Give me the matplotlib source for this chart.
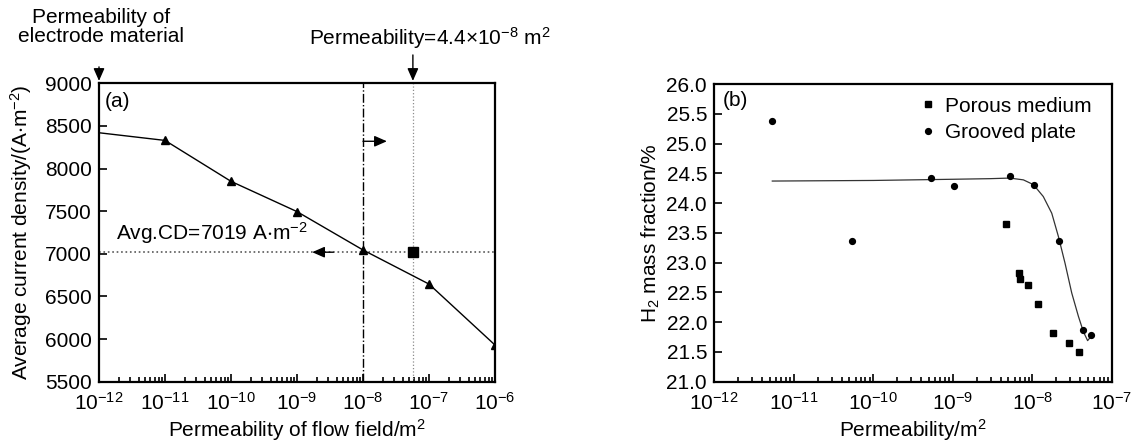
import matplotlib
matplotlib.use('Agg')
import matplotlib.pyplot as plt
import numpy as np

# (a) current density vs flow field permeability
perm_a = [1e-12, 1e-11, 1e-10, 1e-9, 1e-8, 1e-7, 1e-6]
cd_a = [8420, 8330, 7850, 7495, 7045, 6645, 5930]
perm_mark = 5.7e-8      # dotted line / square marker
avg_cd = 7019

# (b) H2 mass fraction
porous_x = [4.66e-9, 6.8e-9, 6.9e-9, 8.7e-9, 1.16e-8, 1.8e-8, 2.9e-8, 3.9e-8]
porous_y = [23.65, 22.82, 22.72, 22.62, 22.31, 21.81, 21.65, 21.50]
groove_x = [5.4e-12, 5.4e-11, 5.3e-10, 1.05e-9, 5.2e-9, 1.06e-8, 2.14e-8, 4.37e-8, 5.45e-8]
groove_y = [25.38, 23.37, 24.42, 24.28, 24.45, 24.31, 23.37, 21.87, 21.78]
fit_x = [5.4e-12, 1e-10, 1e-9, 2.93e-9, 5.2e-9, 7.7e-9, 1.03e-8, 1.37e-8, 1.75e-8,
         2.12e-8, 2.57e-8, 3.12e-8, 3.78e-8, 4.37e-8, 4.94e-8, 5.45e-8]
fit_y = [24.37, 24.38, 24.40, 24.41, 24.42, 24.39, 24.31, 24.11, 23.83,
         23.44, 22.99, 22.49, 22.10, 21.84, 21.69, 21.76]

plt.rcParams.update({'font.family': 'Liberation Sans',
                     'font.size': 15,
                     'mathtext.fontset': 'custom',
                     'mathtext.rm': 'Liberation Sans',
                     'mathtext.default': 'regular',
                     'axes.unicode_minus': False,
                     'axes.linewidth': 1.6})

W, H = 1133, 443
fig = plt.figure(figsize=(W/100, H/100), dpi=100)
ax1 = fig.add_axes([99/W, 1-381.7/H, (495-99)/W, (381.7-83.3)/H])
ax2 = fig.add_axes([714/W, 1-381.7/H, (1112-714)/W, (381.7-84)/H])

for ax in (ax1, ax2):
    ax.set_xscale('log')
    ax.tick_params(which='both', direction='in', top=False, right=False, width=1.2)
    ax.tick_params(which='major', length=6, pad=5)
    ax.tick_params(axis='x', which='major', pad=7)
    ax.tick_params(which='minor', length=3.5)
    ax.xaxis.set_minor_locator(matplotlib.ticker.LogLocator(base=10, subs=np.arange(2, 10), numticks=20))
    ax.xaxis.set_minor_formatter(matplotlib.ticker.NullFormatter())

# ---- panel (a)
ax1.axhline(avg_cd, color='0.35', ls=':', lw=1.2)
ax1.axvline(1e-8, color='k', ls='-.', lw=1)
ax1.axvline(perm_mark, color='0.55', ls=':', lw=0.9)
ax1.plot(perm_a, cd_a, color='k', lw=1, marker='^', ms=5.5, markevery=list(range(1, len(perm_a))))
ax1.plot([perm_mark], [avg_cd], 's', color='k', ms=6.5)
ax1.set_xlim(1e-12, 1e-6)
ax1.set_ylim(5500, 9000)
ax1.set_yticks(np.arange(5500, 9001, 500))
ax1.set_xticks([1e-12, 1e-11, 1e-10, 1e-9, 1e-8, 1e-7, 1e-6])
ax1.set_xlabel('Permeability of flow field/m$^{2}$', labelpad=3)
ax1.set_ylabel('Average current density/(A$\\cdot$m$^{-2}$)', labelpad=8)
ax1.text(0.015, 0.94, '(a)', transform=ax1.transAxes, va='center', ha='left')
ax1.text(10**-11.74, 7090, 'Avg.CD=7019 A$\\cdot$m$^{-2}$', va='bottom', ha='left')

arr = dict(arrowstyle='-|>,head_length=0.5,head_width=0.22', color='k', lw=1,
           mutation_scale=15, shrinkA=0, shrinkB=0)
ax1.annotate('', xy=(10**-8.77, avg_cd), xytext=(10**-8.45, avg_cd), arrowprops=arr)
ax1.annotate('', xy=(2.3e-8, 8320), xytext=(1e-8, 8320), arrowprops=arr)
ax1.annotate('', xy=(1e-12, 1.008), xycoords=('data', 'axes fraction'),
             xytext=(1e-12, 1.055), textcoords=('data', 'axes fraction'),
             arrowprops=arr, annotation_clip=False)
ax1.annotate('', xy=(perm_mark, 1.008), xycoords=('data', 'axes fraction'),
             xytext=(perm_mark, 1.095), textcoords=('data', 'axes fraction'),
             arrowprops=arr, annotation_clip=False)
fig.text(101/W, 1-8/H, 'Permeability of\nelectrode material', ha='center', va='top',
         linespacing=1.0)
fig.text(430/W, 1-45/H, 'Permeability=4.4×10$^{-8}$ m$^{2}$', ha='center', va='baseline')

# ---- panel (b)
ax2.plot(fit_x, fit_y, color='0.2', lw=0.9)
ax2.plot(porous_x, porous_y, 's', color='k', ms=4.5, ls='none', label='Porous medium')
ax2.plot(groove_x, groove_y, 'o', color='k', ms=4.2, ls='none', label='Grooved plate')
ax2.set_xlim(1e-12, 1e-7)
ax2.set_ylim(21.0, 26.0)
ax2.set_yticks(np.arange(21.0, 26.01, 0.5))
ax2.yaxis.set_major_formatter(matplotlib.ticker.FormatStrFormatter('%.1f'))
ax2.set_xticks([1e-12, 1e-11, 1e-10, 1e-9, 1e-8, 1e-7])
ax2.set_xlabel('Permeability/m$^{2}$', labelpad=3)
ax2.set_ylabel('H$_2$ mass fraction/%', labelpad=3)
ax2.text(0.023, 0.946, '(b)', transform=ax2.transAxes, va='center', ha='left')
ax2.legend(loc='upper right', frameon=False, handlelength=0.6, handletextpad=0.5,
           labelspacing=0.35, borderaxespad=0.2, bbox_to_anchor=(0.98, 1.0))

fig.savefig('out.png', dpi=100)
